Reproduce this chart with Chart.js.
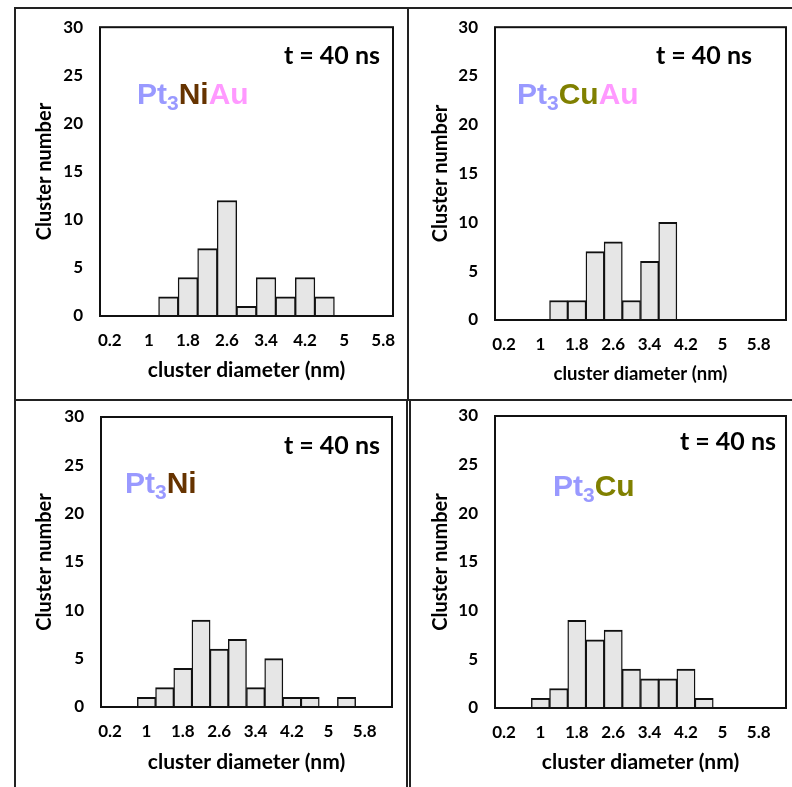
<!DOCTYPE html>
<html>
<head>
<meta charset="utf-8">
<script src="https://cdn.jsdelivr.net/npm/chart.js@4.4.1/dist/chart.umd.min.js"></script>
<style>
  body { margin: 0; background: #fff; }
  #page { position: relative; width: 792px; height: 787px; overflow: hidden; }
  canvas { position: absolute; left: 0; top: 0; }
  .line { position: absolute; background: #222; }
</style>
</head>
<body>
<div id="page">
  <div class="line" style="left:14px;top:7px;width:2px;height:780px"></div>
  <div class="line" style="left:14px;top:7px;width:778px;height:2px"></div>
  <div class="line" style="left:407px;top:7px;width:2px;height:393px"></div>
  <div class="line" style="left:14px;top:399px;width:778px;height:2px"></div>
  <div class="line" style="left:406px;top:401px;width:1.5px;height:386px"></div>
  <div class="line" style="left:409px;top:401px;width:1.5px;height:386px"></div>
  <canvas id="c1" width="792" height="787"></canvas>
  <canvas id="c2" width="792" height="787"></canvas>
  <canvas id="c3" width="792" height="787"></canvas>
  <canvas id="c4" width="792" height="787"></canvas>
</div>
<script>
// diameter bins (nm), 0.4 nm wide
const diam15 = ['0.2', '0.6', '1', '1.4', '1.8', '2.2', '2.6', '3', '3.4', '3.8', '4.2', '4.6', '5', '5.4', '5.8'];
const diam16 = ['0.2', '0.6', '1', '1.4', '1.8', '2.2', '2.6', '3', '3.4', '3.8', '4.2', '4.6', '5', '5.4', '5.8', '6.2'];
const xTickLabels = ['0.2', '1', '1.8', '2.6', '3.4', '4.2', '5', '5.8'];
const yTicks = [0, 5, 10, 15, 20, 25, 30];

// cluster counts at t = 40 ns
const countsPt3NiAu = [0, 0, 0, 2, 4, 7, 12, 1, 4, 2, 4, 2, 0, 0, 0];
const countsPt3CuAu = [0, 0, 0, 2, 2, 7, 8, 2, 6, 10, 0, 0, 0, 0, 0, 0];
const countsPt3Ni   = [0, 0, 1, 2, 4, 9, 6, 7, 2, 5, 1, 1, 0, 1, 0, 0];
const countsPt3Cu   = [0, 0, 1, 2, 9, 7, 8, 4, 3, 3, 4, 1, 0, 0, 0, 0];

const PT = '#9999ff', NI = '#663300', AU = '#ff99ff', CU = '#808000';
const W = 792, H = 787;
const AXIS_FONT = 'Lato';

// frame around the plot + the "t = 40 ns" and composition labels
const decorate = {
    id: 'decorate',
    afterDatasetsDraw(chart, args, o) {
        const { ctx, chartArea: a } = chart;
        ctx.save();
        ctx.strokeStyle = '#111';
        ctx.lineWidth = 2;
        ctx.strokeRect(a.left, a.top, a.right - a.left, a.bottom - a.top);

        ctx.fillStyle = '#000';
        ctx.font = 'bold 25px ' + AXIS_FONT;
        ctx.textAlign = 'right';
        ctx.textBaseline = 'alphabetic';
        ctx.fillText('t = 40 ns', a.right - o.timeDx, a.top + o.timeDy);

        let x = a.left + o.nameDx;
        const y = a.top + o.nameDy;
        ctx.textAlign = 'left';
        o.parts.forEach(p => {
            ctx.font = p.sub ? 'bold 21px "Liberation Sans"' : 'bold 30px "Liberation Sans"';
            ctx.fillStyle = p.color;
            ctx.fillText(p.text, x, y + (p.sub ? 6 : 0));
            x += ctx.measureText(p.text).width;
        });
        ctx.restore();
    }
};

function makePanel(id, labels, counts, g, deco) {
    const yLH = g.yTitleSize * 1.2;
    const xLH = g.xTitleSize * 1.2;
    const padLeft = g.yTitleX - yLH / 2;
    const xAxisBottom = g.xTitleY + xLH / 2;

    return new Chart(document.getElementById(id), {
        type: 'bar',
        data: {
            labels: labels,
            datasets: [{
                data: counts,
                backgroundColor: '#e6e6e6',
                borderColor: '#111',
                borderWidth: { top: 2, left: 1.4, right: 1.4, bottom: 0 },
                borderSkipped: false,
                barPercentage: 1,
                categoryPercentage: 1
            }]
        },
        options: {
            responsive: false,
            animation: false,
            layout: {
                padding: { left: padLeft, top: g.top, right: W - g.right, bottom: H - xAxisBottom }
            },
            plugins: {
                legend: { display: false },
                tooltip: { enabled: false },
                decorate: deco
            },
            scales: {
                x: {
                    grid: { display: false, drawTicks: false },
                    border: { display: false },
                    ticks: {
                        autoSkip: false,
                        maxRotation: 0,
                        padding: g.xTickPad,
                        color: '#000',
                        font: { family: AXIS_FONT, size: 17, weight: 'bold' },
                        callback: function (v) {
                            const l = this.getLabelForValue(v);
                            return xTickLabels.includes(l) ? l : '';
                        }
                    },
                    title: {
                        display: true,
                        text: 'cluster diameter (nm)',
                        color: '#000',
                        padding: 0,
                        font: { family: AXIS_FONT, size: g.xTitleSize, weight: 'bold' }
                    },
                    afterFit: s => { s.height = xAxisBottom - g.bottom; }
                },
                y: {
                    min: 0,
                    max: 30,
                    afterBuildTicks: s => { s.ticks = yTicks.map(v => ({ value: v })); },
                    grid: { display: false, drawTicks: false },
                    border: { display: false },
                    ticks: {
                        padding: 17,
                        color: '#000',
                        font: { family: AXIS_FONT, size: 17, weight: 'bold' }
                    },
                    title: {
                        display: true,
                        text: 'Cluster number',
                        color: '#000',
                        padding: 0,
                        font: { family: AXIS_FONT, size: g.yTitleSize, weight: 'bold' }
                    },
                    afterFit: s => { s.width = g.left - padLeft; }
                }
            }
        },
        plugins: [decorate]
    });
}

makePanel('c1', diam15, countsPt3NiAu,
    { left: 100, right: 393, top: 26, bottom: 316, yTitleX: 45, xTitleY: 370, yTitleSize: 20, xTitleSize: 21, xTickPad: 14 },
    { timeDx: 13, timeDy: 37, nameDx: 37, nameDy: 77,
      parts: [{ text: 'Pt', color: PT }, { text: '3', color: PT, sub: true }, { text: 'Ni', color: NI }, { text: 'Au', color: AU }] });

makePanel('c2', diam16, countsPt3CuAu,
    { left: 495, right: 786, top: 26, bottom: 320, yTitleX: 441, xTitleY: 374, yTitleSize: 20, xTitleSize: 18.5, xTickPad: 14 },
    { timeDx: 34, timeDy: 37, nameDx: 22, nameDy: 77,
      parts: [{ text: 'Pt', color: PT }, { text: '3', color: PT, sub: true }, { text: 'Cu', color: CU }, { text: 'Au', color: AU }] });

makePanel('c3', diam16, countsPt3Ni,
    { left: 101, right: 392, top: 417, bottom: 707, yTitleX: 45, xTitleY: 762, yTitleSize: 20, xTitleSize: 21, xTickPad: 14 },
    { timeDx: 12, timeDy: 37, nameDx: 24, nameDy: 76,
      parts: [{ text: 'Pt', color: PT }, { text: '3', color: PT, sub: true }, { text: 'Ni', color: NI }] });

makePanel('c4', diam16, countsPt3Cu,
    { left: 495, right: 786, top: 416, bottom: 708, yTitleX: 441, xTitleY: 762, yTitleSize: 20, xTitleSize: 21, xTickPad: 14 },
    { timeDx: 10, timeDy: 34, nameDx: 58, nameDy: 80,
      parts: [{ text: 'Pt', color: PT }, { text: '3', color: PT, sub: true }, { text: 'Cu', color: CU }] });
</script>
</body>
</html>
